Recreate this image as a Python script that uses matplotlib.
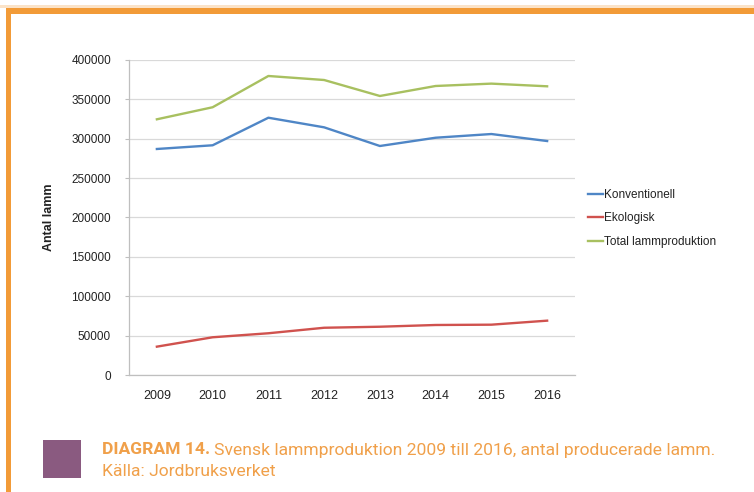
import matplotlib
matplotlib.use("Agg")
import matplotlib.pyplot as plt
from matplotlib.patches import Rectangle

years = ["2009", "2010", "2011", "2012", "2013", "2014", "2015", "2016"]
konventionell = [287000, 291700, 326700, 314500, 290800, 301300, 306000, 297100]
ekologisk = [36000, 47900, 53000, 60000, 61300, 63500, 63900, 69000]
total = [324700, 340000, 379700, 374600, 354300, 367000, 370000, 366600]
series_names = ["Konventionell", "Ekologisk", "Total lammproduktion"]
yticks = [0, 50000, 100000, 150000, 200000, 250000, 300000, 350000, 400000]
caption_bold = "DIAGRAM 14."
caption_rest = "Svensk lammproduktion 2009 till 2016, antal producerade lamm."
caption_source = "Källa: Jordbruksverket"

W, H = 754, 492
fig = plt.figure(figsize=(W / 100, H / 100), dpi=100)
fig.patch.set_facecolor("white")

orange = "#F29B38"
fig.patches.append(Rectangle((6 / W, 1 - 14 / H), 1, 6 / H, transform=fig.transFigure,
                             facecolor=orange, edgecolor="none"))
fig.patches.append(Rectangle((6 / W, 0), 5 / W, 1 - 8 / H, transform=fig.transFigure,
                             facecolor=orange, edgecolor="none"))
fig.patches.append(Rectangle((0, 1 - 8 / H), 1, 3 / H, transform=fig.transFigure,
                             facecolor="#FBE3C8", edgecolor="none"))

ax = fig.add_axes([129 / W, 1 - 375 / H, (575 - 129) / W, (375 - 60) / H])
x = list(range(len(years)))
ax.plot(x, konventionell, color="#4F86C6", lw=1.7, label=series_names[0])
ax.plot(x, ekologisk, color="#D0524E", lw=1.7, label=series_names[1])
ax.plot(x, total, color="#A8C060", lw=1.7, label=series_names[2])

ax.set_xlim(-0.5, len(years) - 0.5)
ax.set_ylim(0, 400000)
ax.set_yticks(yticks)
ax.set_yticklabels([str(v) for v in yticks])
ax.set_xticks(x)
ax.set_xticklabels(years)
ax.grid(axis="y", color="#D9D9D9", lw=0.9)
ax.set_axisbelow(True)
for s in ["top", "right"]:
    ax.spines[s].set_visible(False)
for s in ["left", "bottom"]:
    ax.spines[s].set_color("#BFBFBF")
    ax.spines[s].set_linewidth(0.9)
ax.tick_params(axis="y", length=3, color="#BFBFBF", labelsize=8.5, pad=10, labelcolor="#222222")
ax.tick_params(axis="x", length=0, labelsize=9, pad=11, labelcolor="#222222")
for lab in ax.get_yticklabels() + ax.get_xticklabels():
    lab.set_family("Liberation Sans")
ax.set_ylabel("Antal lamm", fontsize=9, fontweight="bold", family="Liberation Sans",
              color="#222222", labelpad=12)

leg = ax.legend(loc="center left", bbox_to_anchor=(1.005, 0.497), frameon=False,
                prop={"family": "Liberation Sans", "size": 8.5}, handlelength=1.3,
                handletextpad=0.1, labelspacing=1.0)
for t in leg.get_texts():
    t.set_color("#222222")

# caption
fig.patches.append(Rectangle((43 / W, 1 - 478 / H), 38 / W, 38 / H, transform=fig.transFigure,
                             facecolor="#8A5A80", edgecolor="none"))
cap_color = "#F0A04A"
cap_font = "Roboto"
x0 = 102
target_w = 711 - 102

def draw_caption(fs):
    a = fig.text(x0 / W, 1 - 450 / H, caption_bold, fontsize=fs, fontweight="bold",
                 color=cap_color, family=cap_font, va="center", ha="left")
    fig.canvas.draw()
    bb = a.get_window_extent()
    b = fig.text((bb.x1 + 0.3 * fs) / W, 1 - 450 / H, caption_rest, fontsize=fs,
                 color=cap_color, family=cap_font, va="center", ha="left")
    fig.canvas.draw()
    return a, b, b.get_window_extent().x1 - x0

fs = 12.0
a, b, w = draw_caption(fs)
fs = fs * target_w / w
a.remove(); b.remove()
a, b, w = draw_caption(fs)
fig.text(x0 / W, 1 - 471 / H, caption_source, fontsize=fs, color=cap_color,
         family=cap_font, va="center", ha="left")

fig.savefig("out.png", dpi=100)
